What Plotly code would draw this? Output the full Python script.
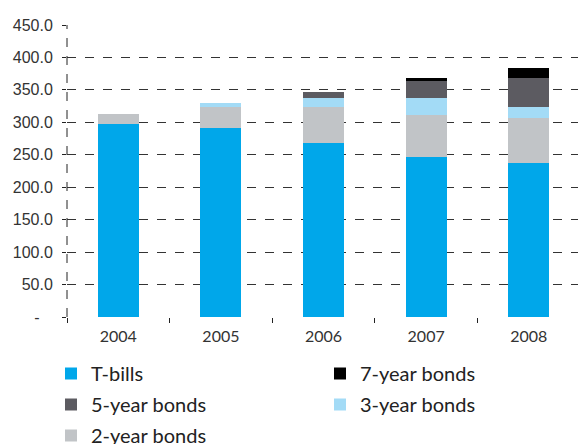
import plotly.graph_objects as go

years = ["2004", "2005", "2006", "2007", "2008"]
t_bills = [298, 292, 268, 246, 238]
two_year = [15, 32, 55, 66, 68]
three_year = [0, 6, 15, 25, 18]
five_year = [0, 0, 8, 26, 45]
seven_year = [0, 0, 0, 6, 14]

y_tickvals = [0, 50, 100, 150, 200, 250, 300, 350, 400, 450]
y_ticktext = ["-   "] + [f"{v:.1f}" for v in y_tickvals[1:]]

x_pos = list(range(len(years)))

# name, values, colour, legend id, rank within legend
series = [
    ("T-bills", t_bills, "#00A7EA", "legend", 1),
    ("2-year bonds", two_year, "#C1C4C7", "legend", 3),
    ("3-year bonds", three_year, "#A3DBF6", "legend2", 2),
    ("5-year bonds", five_year, "#5C5B61", "legend", 2),
    ("7-year bonds", seven_year, "#000000", "legend2", 1),
]

fig = go.Figure()
for name, vals, color, leg, rank in series:
    fig.add_trace(go.Bar(
        x=x_pos, y=vals, name=name, marker_color=color,
        marker_line_width=0, legend=leg, legendrank=rank,
        legendgroup=name, width=0.4,
    ))

legend_font = dict(family="Lato, sans-serif", size=20, color="#222222")
fig.update_layout(
    barmode="stack",
    width=578, height=444,
    margin=dict(l=67, r=0, t=25, b=127, autoexpand=False),
    paper_bgcolor="white", plot_bgcolor="white",
    font=dict(family="Liberation Sans, Arial, sans-serif", color="#333333", size=14),
    showlegend=True,
    legend=dict(
        orientation="v", xref="container", yref="container",
        x=0.0882, xanchor="left", y=0.2027, yanchor="top",
        font=legend_font, traceorder="grouped", tracegroupgap=2, itemclick=False,
    ),
    legend2=dict(
        orientation="v", xref="container", yref="container",
        x=0.5536, xanchor="left", y=0.2027, yanchor="top",
        font=legend_font, traceorder="grouped", tracegroupgap=2, itemclick=False,
    ),
    xaxis=dict(
        range=[-0.5, 4.48], showgrid=False, showline=False, zeroline=False,
        tickvals=x_pos, ticktext=years, ticks="", ticklabelstandoff=8,
        tickfont=dict(family="Lato, sans-serif", size=16, color="#333333"),
        minor=dict(tickvals=[-0.5, 0.5, 1.5, 2.5, 3.5], ticks="outside", ticklen=5,
                   tickcolor="#222222", showgrid=False),
    ),
    yaxis=dict(
        range=[0, 450], tickvals=y_tickvals, ticktext=y_ticktext,
        showgrid=True, gridcolor="#333333", griddash="dash", gridwidth=1,
        zeroline=False, showline=False, ticks="outside", ticklen=4,
        ticklabelstandoff=6,
        tickcolor="#222222", tickfont=dict(size=16, color="#333333"),
    ),
    yaxis2=dict(
        overlaying="y", side="left", matches="y", range=[0, 450],
        tickvals=y_tickvals, showticklabels=False, showgrid=False,
        zeroline=False, showline=False, ticks="inside", ticklen=4,
        tickcolor="#222222",
    ),
    shapes=[dict(type="line", xref="paper", yref="y", x0=0, x1=0, y0=0, y1=450,
                 line=dict(color="#222222", width=1, dash="dash"), layer="below")],
)

fig.write_html("out.html")
